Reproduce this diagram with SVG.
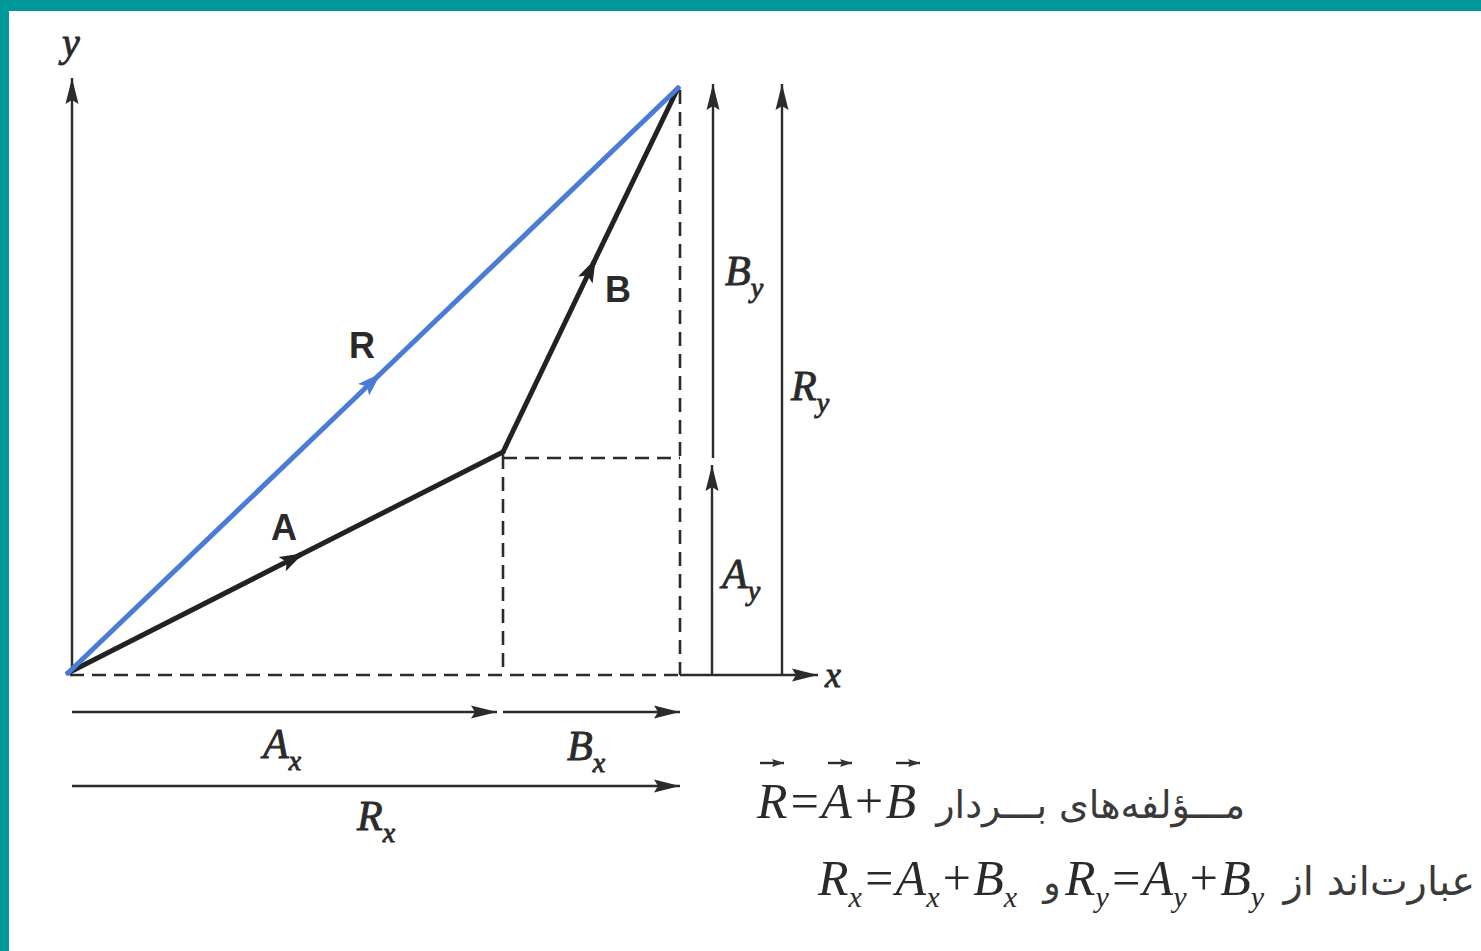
<svg xmlns="http://www.w3.org/2000/svg" width="1481" height="951" viewBox="0 0 1481 951">
<style>
.ax{stroke:#2b2b2b;stroke-width:2.4;fill:none}
.dash{stroke:#2b2b2b;stroke-width:2.6;fill:none;stroke-dasharray:14 8}
.vec{stroke:#222;stroke-width:5;fill:none;stroke-linecap:round}
.vecR{stroke:#4a7bd6;stroke-width:5;fill:none;stroke-linecap:round}
.it{font-family:"Liberation Serif",serif;font-style:italic;fill:#2a2a2a}
.lb{stroke:#2a2a2a;stroke-width:0.9}
.bd{font-family:"Liberation Sans",sans-serif;font-weight:bold;fill:#2a2a2a}
.fa{font-family:"DejaVu Sans","Noto Sans",sans-serif;fill:#3a3a3a}
</style>
<defs>
<marker id="ah" markerUnits="userSpaceOnUse" markerWidth="26" markerHeight="14" refX="26" refY="7" orient="auto">
<path d="M0,0.5 L26,7 L0,13.5 L4,7 z" fill="#2b2b2b"/>
</marker>
<marker id="ahv" markerUnits="userSpaceOnUse" markerWidth="24" markerHeight="18" refX="20" refY="9" orient="auto">
<path d="M0,1 L24,9 L0,17 L5,9 z" fill="#222"/>
</marker>
<marker id="ahR" markerUnits="userSpaceOnUse" markerWidth="24" markerHeight="18" refX="20" refY="9" orient="auto">
<path d="M0,1 L24,9 L0,17 L5,9 z" fill="#4a7bd6"/>
</marker>
<marker id="ahs" markerUnits="userSpaceOnUse" markerWidth="12" markerHeight="8" refX="12" refY="4" orient="auto">
<path d="M0,0 L12,4 L0,8 L2,4 z" fill="#333"/>
</marker>
</defs>
<rect x="0" y="0" width="1481" height="951" fill="#ffffff"/>
<g id="frame">
<rect x="0" y="0" width="1481" height="11" fill="#009999"/>
<rect x="0" y="0" width="9" height="951" fill="#009999"/>
</g>
<g id="connectors">
<line id="y-axis" class="ax" x1="72" y1="673" x2="72" y2="78" marker-end="url(#ah)"/>
<line class="dash" x1="70" y1="675" x2="680" y2="675"/>
<line id="x-axis" class="ax" x1="680" y1="675" x2="818" y2="675" marker-end="url(#ah)"/>
<line class="dash" x1="503" y1="455" x2="503" y2="675"/>
<line class="dash" x1="503" y1="458" x2="680" y2="458"/>
<line class="dash" x1="680" y1="90" x2="680" y2="675"/>
<line id="Ay" class="ax" x1="712" y1="675" x2="712" y2="465" marker-end="url(#ah)"/>
<line id="By" class="ax" x1="713" y1="458" x2="713" y2="84" marker-end="url(#ah)"/>
<line id="Ry" class="ax" x1="782" y1="675" x2="782" y2="84" marker-end="url(#ah)"/>
<line id="Ax" class="ax" x1="72" y1="712" x2="497" y2="712" marker-end="url(#ah)"/>
<line id="Bx" class="ax" x1="503" y1="712" x2="680" y2="712" marker-end="url(#ah)"/>
<line id="Rx" class="ax" x1="72" y1="786" x2="680" y2="786" marker-end="url(#ah)"/>
<g id="vecA">
<line class="vec" x1="68" y1="673" x2="300" y2="555" marker-end="url(#ahv)"/>
<line class="vec" x1="298" y1="556" x2="503" y2="452"/>
</g>
<g id="vecB">
<line class="vec" x1="503" y1="452" x2="594" y2="262" marker-end="url(#ahv)"/>
<line class="vec" x1="593" y1="264" x2="678" y2="88"/>
</g>
<g id="vecR">
<line class="vecR" x1="68" y1="673" x2="378" y2="376" marker-end="url(#ahR)"/>
<line class="vecR" x1="376" y1="378" x2="678" y2="88"/>
</g>
</g>
<g id="labels">
<text class="it lb" x="62" y="56" font-size="40">y</text>
<text class="it lb" x="825" y="687" font-size="36">x</text>
<text class="bd" x="271" y="540" font-size="36">A</text>
<text class="bd" x="349" y="358" font-size="36">R</text>
<text class="bd" x="605" y="302" font-size="36">B</text>
<text class="it lb" x="725" y="285" font-size="42">B<tspan font-size="28" dy="12">y</tspan></text>
<text class="it lb" x="791" y="400" font-size="42">R<tspan font-size="28" dy="12">y</tspan></text>
<text class="it lb" x="722" y="588" font-size="42">A<tspan font-size="28" dy="12">y</tspan></text>
<text class="it lb" x="263" y="758" font-size="42">A<tspan font-size="28" dy="12">x</tspan></text>
<text class="it lb" x="567" y="760" font-size="42">B<tspan font-size="28" dy="12">x</tspan></text>
<text class="it lb" x="357" y="830" font-size="42">R<tspan font-size="28" dy="12">x</tspan></text>
</g>
<g id="caption">
<text class="it" x="757" y="818" font-size="50">R=A+B</text>
<line class="ax" stroke-width="1.8" x1="760" y1="763" x2="784" y2="763" marker-end="url(#ahs)"/>
<line class="ax" stroke-width="1.8" x1="828" y1="763" x2="852" y2="763" marker-end="url(#ahs)"/>
<line class="ax" stroke-width="1.8" x1="896" y1="763" x2="920" y2="763" marker-end="url(#ahs)"/>
<text class="fa" x="1245" y="818" font-size="38" text-anchor="end">مـــؤلفه‌های بـــردار</text>
<text class="it" x="818" y="895" font-size="50">R<tspan font-size="30" dy="12">x</tspan><tspan dy="-12">=A</tspan><tspan font-size="30" dy="12">x</tspan><tspan dy="-12">+B</tspan><tspan font-size="30" dy="12">x</tspan></text>
<text class="fa" x="1052" y="895" font-size="36" text-anchor="middle">و</text>
<text class="it" x="1065" y="895" font-size="50">R<tspan font-size="30" dy="12">y</tspan><tspan dy="-12">=A</tspan><tspan font-size="30" dy="12">y</tspan><tspan dy="-12">+B</tspan><tspan font-size="30" dy="12">y</tspan></text>
<text class="fa" x="1475" y="895" font-size="40" text-anchor="end">عبارت‌اند از</text>
</g>
</svg>
